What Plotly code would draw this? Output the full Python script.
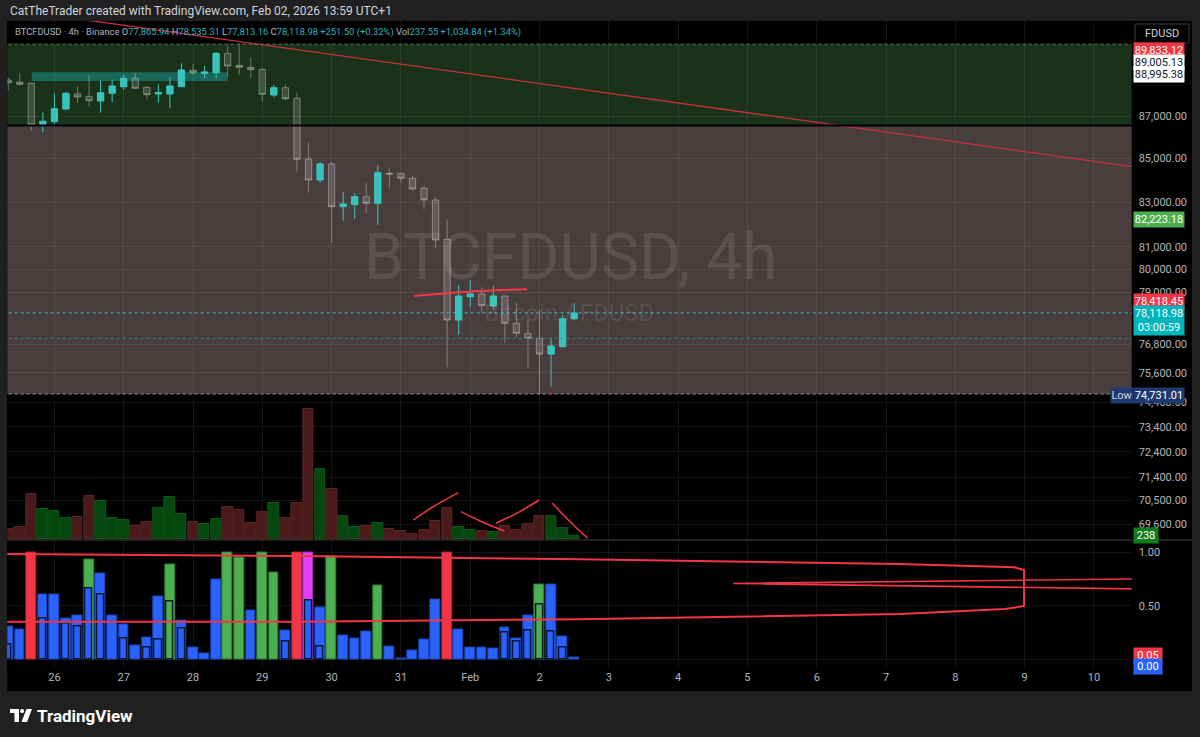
import math
import pandas as pd
import plotly.graph_objects as go

# ---------------- data ----------------
BAR_TIMES = pd.date_range("2026-01-25 09:00", periods=50, freq="4h")

OPEN = [88730, 88632, 88567, 86606, 86729, 87334, 88060, 87942, 87717, 88087,
        88405, 88812, 88376, 88054, 88054, 88405, 89202, 89055, 89084, 90034,
        89445, 89347, 89250, 88005, 88357, 87846, 84980, 84008, 84746, 82790,
        82881, 83246, 82945, 84316, 84316, 84087, 83628, 83094, 81327, 77816,
        78814, 78930, 78415, 78844, 77675, 77253, 77040, 76382, 76689, 77865.94]
HIGH = [88860, 89055, 88600, 87176, 88087, 88150, 88439, 88973, 88681, 88763,
        88973, 89084, 88440, 88521, 88890, 89544, 89510, 89412, 90099, 90429,
        90529, 89838, 89300, 88488, 88521, 88116, 85758, 84839, 84839, 83459,
        83401, 83884, 84700, 84593, 84330, 84192, 83733, 83218, 82221, 79319,
        79537, 79220, 79289, 78860, 78552, 77846, 78243, 77040, 78030, 78535.31]
LOW = [88210, 88454, 86303, 86228, 86620, 87286, 87635, 87444, 87157, 87655,
       88246, 88300, 87798, 87636, 87367, 88390, 88973, 88812, 88812, 88890,
       88973, 88812, 87683, 87894, 87731, 84390, 83427, 83884, 81176, 82158,
       82235, 82493, 81966, 83628, 83884, 83518, 82672, 80929, 75828, 77181,
       78359, 78103, 78243, 76857, 77084, 75786, 74731.01, 75029, 76680, 77813.16]
CLOSE = [88600, 88520, 86587, 86748, 87348, 88087, 87909, 87731, 88116, 88440,
         88812, 88328, 88019, 88116, 88440, 89216, 89084, 89118, 90034, 89412,
         89347, 89231, 88039, 88357, 87827, 84965, 84008, 84746, 82790, 82913,
         83246, 82945, 84344, 84284, 84087, 83596, 83094, 81296, 77816, 78844,
         78930, 78428, 78844, 77675, 77253, 77040, 76382, 76718, 77867.48, 78118.98]
VOLUME = [766, 893, 3555, 2370, 2188, 1659, 1714, 3373, 2978, 1659,
          1477, 1027, 1319, 2449, 3318, 1951, 1319, 1185, 1556, 2504,
          2267, 1240, 2078, 2844, 1659, 2789, 10215, 5506, 3926, 1793,
          948, 1027, 1240, 766, 608, 340, 687, 1367, 2425, 948,
          711, 608, 529, 1003, 711, 1185, 1793, 1793, 845, 237.55]

# oscillator pane (0..1): main histogram + inner histogram
IND_MAIN = [0.31, 0.28, 1.0, 0.61, 0.61, 0.38, 0.41, 0.93, 0.80, 0.41,
            0.32, 0.13, 0.20, 0.59, 0.89, 0.36, 0.11, 0.055, 0.75, 1.0,
            0.95, 0.46, 1.0, 0.81, 0.27, 1.0, 1.0, 0.48, 0.96, 0.22,
            0.19, 0.26, 0.69, 0.12, 0.01, 0.08, 0.18, 0.56, 1.0, 0.28,
            0.11, 0.11, 0.10, 0.30, 0.19, 0.41, 0.70, 0.70, 0.21, 0.02]
IND_MAIN_KIND = ["b", "b", "r", "b", "b", "b", "b", "g", "b", "b",
                 "b", "b", "b", "b", "g", "b", "b", "b", "b", "g",
                 "g", "b", "g", "g", "b", "r", "m", "b", "g", "b",
                 "b", "b", "g", "b", "b", "b", "b", "b", "r", "b",
                 "b", "b", "b", "b", "b", "b", "g", "b", "b", "b"]
IND_INNER = [0.14, None, None, 0.38, None, 0.33, 0.31, 0.66, 0.61, None,
             0.19, None, 0.11, 0.18, 0.54, 0.29, None, None, None, None,
             None, None, None, None, 0.17, None, 0.55, 0.12, None, None,
             None, None, None, None, None, None, None, None, None, None,
             None, None, None, 0.25, 0.17, 0.27, 0.51, 0.26, 0.11, None]
IND_INNER_KIND = ["b", "b", "b", "b", "b", "b", "b", "b", "b", "b",
                  "b", "b", "b", "b", "g", "b", "b", "b", "b", "b",
                  "b", "b", "b", "b", "b", "b", "b", "b", "b", "b",
                  "b", "b", "b", "b", "b", "b", "b", "b", "b", "b",
                  "b", "b", "b", "b", "b", "b", "g", "b", "b", "b"]

DAY_TICKS = ["2026-01-26 01:00", "2026-01-27 01:00", "2026-01-28 01:00", "2026-01-29 01:00",
             "2026-01-30 01:00", "2026-01-31 01:00", "2026-02-01 01:00", "2026-02-02 01:00",
             "2026-02-03 01:00", "2026-02-04 01:00", "2026-02-05 01:00", "2026-02-06 01:00",
             "2026-02-07 01:00", "2026-02-08 01:00", "2026-02-09 01:00", "2026-02-10 01:00"]
DAY_LABELS = ["26", "27", "28", "29", "30", "31", "Feb", "2", "3", "4", "5", "6", "7", "8", "9", "10"]
PRICE_TICKS = [87000, 85000, 83000, 81000, 80000, 79000, 76800, 75600,
               74400, 73400, 72400, 71400, 70500, 69600]

# drawings (bar-index, value)
GREEN_ZONE = [86549, 90490]
PINK_ZONE = [74731.01, 86549]
TEAL_BOX_IDX = [2.03, 19.0]
TEAL_BOX_PRICE = [88681, 89104]
TREND_IDX = [5.5, 97.5]
TREND_PRICE = [91790, 84612]
RES_IDX = [35.13, 40.85, 44.92]
RES_PRICE = [78844, 79060, 79133]
LAST_PRICE = 78118.98
PREV_LINE = 77040
VOL_STROKES = [
    ([35.07, 36.81, 38.97], [1477, 2528, 3634]),
    ([39.18, 40.99, 42.95], [2133, 1343, 608]),
    ([42.21, 44.03, 45.98], [1217, 2007, 3057]),
    ([47.11, 48.64, 50.17], [2797, 1343, 32]),
]
OSC_LOOP_IDX = [-1, 25.26, 49.5, 77.2, 86.3, 87.95, 87.95, 87.1, 77.2, 49.5, 25.26, -1]
OSC_LOOP_VAL = [0.351, 0.351, 0.374, 0.423, 0.470, 0.498, 0.835, 0.860, 0.891, 0.935, 0.966, 0.985]
OSC_LOOP2_IDX = [98, 62.75, 98]
OSC_LOOP2_VAL = [0.751, 0.709, 0.657]

# ---------------- helpers ----------------
W, H = 1200, 737
FONT = "Roboto"
def X(px): return px / W
def Y(py): return 1 - py / H
def at(idx): return BAR_TIMES[0] + pd.Timedelta(hours=4 * idx)

FOUR_H_MS = 4 * 3600 * 1000
KIND_FILL = {"b": "#2962ff", "g": "#4caf50", "r": "#f23645", "m": "#e040fb"}
KIND_LINE = {"b": "#1d44b0", "g": "#2f7a33", "r": "#b02232", "m": "#9d2cb2"}

fig = go.Figure()

# candles
fig.add_trace(go.Candlestick(
    x=BAR_TIMES, open=OPEN, high=HIGH, low=LOW, close=CLOSE,
    increasing=dict(line=dict(color="#3cc8c0", width=1), fillcolor="#35c4bd"),
    decreasing=dict(line=dict(color="rgba(215,215,215,0.42)", width=1), fillcolor="rgba(255,255,255,0.15)"),
    whiskerwidth=0, hoverinfo="skip", xaxis="x", yaxis="y", showlegend=False))

# volume
up = [c >= o for o, c in zip(OPEN, CLOSE)]
fig.add_trace(go.Bar(
    x=BAR_TIMES, y=VOLUME, width=FOUR_H_MS * 0.9,
    marker=dict(color=["#06470f" if u else "#4a1a1a" for u in up],
                line=dict(color=["#0b5a16" if u else "#5c2424" for u in up], width=1)),
    xaxis="x", yaxis="y2", showlegend=False, hoverinfo="skip"))

# oscillator
fig.add_trace(go.Bar(
    x=BAR_TIMES, y=IND_MAIN, width=FOUR_H_MS * 0.85,
    marker=dict(color=[KIND_FILL[k] for k in IND_MAIN_KIND],
                line=dict(color=[KIND_LINE[k] for k in IND_MAIN_KIND], width=1)),
    xaxis="x", yaxis="y3", showlegend=False, hoverinfo="skip"))
fig.add_trace(go.Bar(
    x=BAR_TIMES, y=IND_INNER, width=FOUR_H_MS * 0.62,
    marker=dict(color=[KIND_FILL[k] for k in IND_INNER_KIND],
                line=dict(color="#0c1530", width=1.5)),
    xaxis="x", yaxis="y3", showlegend=False, hoverinfo="skip"))

# drawings on price pane
fig.add_trace(go.Scatter(x=[at(i) for i in TREND_IDX], y=TREND_PRICE, mode="lines",
                         line=dict(color="#c8303e", width=1.3), xaxis="x", yaxis="y",
                         showlegend=False, hoverinfo="skip"))
fig.add_trace(go.Scatter(x=[at(i) for i in RES_IDX], y=RES_PRICE, mode="lines",
                         line=dict(color="#f23645", width=2, shape="spline"), xaxis="x", yaxis="y",
                         showlegend=False, hoverinfo="skip"))
fig.add_trace(go.Scatter(x=[at(-1), at(98)], y=[LAST_PRICE, LAST_PRICE], mode="lines",
                         line=dict(color="#26c6cf", width=1, dash="dot"), xaxis="x", yaxis="y",
                         showlegend=False, hoverinfo="skip"))
fig.add_trace(go.Scatter(x=[at(-1), at(98)], y=[PREV_LINE, PREV_LINE], mode="lines",
                         line=dict(color="#2a8f94", width=1, dash="dot"), xaxis="x", yaxis="y",
                         showlegend=False, hoverinfo="skip"))
fig.add_trace(go.Scatter(x=[at(-1), at(98)], y=[GREEN_ZONE[1], GREEN_ZONE[1]], mode="lines",
                         line=dict(color="#6a7a6a", width=1, dash="dot"), xaxis="x", yaxis="y",
                         showlegend=False, hoverinfo="skip"))
fig.add_trace(go.Scatter(x=[at(-1), at(98)], y=[PINK_ZONE[0], PINK_ZONE[0]], mode="lines",
                         line=dict(color="#9a9a9a", width=1, dash="dot"), xaxis="x", yaxis="y",
                         showlegend=False, hoverinfo="skip"))
fig.add_trace(go.Scatter(x=[at(-1), at(98)], y=[GREEN_ZONE[0], GREEN_ZONE[0]], mode="lines",
                         line=dict(color="#000000", width=2), xaxis="x", yaxis="y",
                         showlegend=False, hoverinfo="skip"))

# drawings on volume
for sx, sy in VOL_STROKES:
    fig.add_trace(go.Scatter(x=[at(i) for i in sx], y=sy, mode="lines",
                             line=dict(color="#f23645", width=1.5, shape="spline"),
                             xaxis="x", yaxis="y2", showlegend=False, hoverinfo="skip"))

# drawings on oscillator
fig.add_trace(go.Scatter(x=[at(i) for i in OSC_LOOP_IDX], y=OSC_LOOP_VAL, mode="lines",
                         line=dict(color="#f23645", width=2), xaxis="x", yaxis="y3",
                         showlegend=False, hoverinfo="skip"))
fig.add_trace(go.Scatter(x=[at(i) for i in OSC_LOOP2_IDX], y=OSC_LOOP2_VAL, mode="lines",
                         line=dict(color="#f23645", width=1.6), xaxis="x", yaxis="y3",
                         showlegend=False, hoverinfo="skip"))

GRID = "rgba(255,255,255,0.07)"
TICKC = "#b2b5be"

shapes = [
    # chart frame
    dict(type="rect", xref="paper", yref="paper", x0=X(7.3), x1=X(1192), y0=Y(691), y1=Y(21),
         fillcolor="#000000", line=dict(width=0), layer="below"),
    # zones
    dict(type="rect", xref="x domain", yref="y", x0=0, x1=1, y0=GREEN_ZONE[0], y1=GREEN_ZONE[1],
         fillcolor="#1a3219", line=dict(width=0), layer="below"),
    dict(type="rect", xref="x domain", yref="y", x0=0, x1=1, y0=PINK_ZONE[0], y1=PINK_ZONE[1],
         fillcolor="#4a3d3d", line=dict(width=0), layer="below"),
    dict(type="rect", xref="x", yref="y", x0=at(TEAL_BOX_IDX[0]), x1=at(TEAL_BOX_IDX[1]),
         y0=TEAL_BOX_PRICE[0], y1=TEAL_BOX_PRICE[1],
         fillcolor="rgba(28,150,145,0.55)", line=dict(width=0), layer="below"),
    # pane separator
    dict(type="line", xref="paper", yref="paper", x0=X(7.3), x1=X(1192), y0=Y(540), y1=Y(540),
         line=dict(color="#2c2c2c", width=1.5)),
    # FDUSD button
    dict(type="rect", xref="paper", yref="paper", x0=X(1135), x1=X(1189), y0=Y(43), y1=Y(24),
         fillcolor="#000000", line=dict(color="#3a3d45", width=1)),
    # TradingView logo
    dict(type="rect", xref="paper", yref="paper", x0=X(10), x1=X(19), y0=Y(713), y1=Y(709),
         fillcolor="#ffffff", line=dict(width=0)),
    dict(type="rect", xref="paper", yref="paper", x0=X(14.5), x1=X(19), y0=Y(722), y1=Y(709),
         fillcolor="#ffffff", line=dict(width=0)),
    dict(type="circle", xref="paper", yref="paper", x0=X(20), x1=X(24.2), y0=Y(713.2), y1=Y(709),
         fillcolor="#ffffff", line=dict(width=0)),
    dict(type="path", xref="paper", yref="paper",
         path=f"M {X(26.5)} {Y(709)} L {X(32)} {Y(709)} L {X(27)} {Y(722)} L {X(21.5)} {Y(722)} Z",
         fillcolor="#ffffff", line=dict(width=0)),
]

annotations = []
def label(text, py, bg, fg, px=1133, w=48, size=11, anchor="left"):
    annotations.append(dict(xref="paper", yref="paper", x=X(px), y=Y(py), xanchor=anchor,
                            yanchor="middle", text=text, showarrow=False, bgcolor=bg,
                            font=dict(color=fg, size=size, family=FONT), borderpad=1,
                            width=w, align="center"))

label("89,833.12", 50, "#f23645", "#ffffff")
label("89,005.13", 62.5, "#ffffff", "#131722")
label("88,995.38", 75, "#ffffff", "#131722")
label("82,223.18", 219.5, "#4caf50", "#ffffff")
label("78,418.45", 301, "#f23645", "#ffffff")
label("78,118.98<br>03:00:59", 320, "#00b4bd", "#ffffff")
label("Low", 395, "#1f3a70", "#d1d4dc", px=1110, w=20)
label("74,731.01", 395, "#1f3a70", "#ffffff")
label("238", 535, "#0f7d1e", "#ffffff", w=22)
label("0.05", 655, "#f23645", "#ffffff", w=26)
label("0.00", 666.5, "#2962ff", "#ffffff", w=26)

hv = "#2bb3bd"
header = ("BTCFDUSD · 4h · Binance "
          f"O<span style='color:{hv}'>77,865.94</span> "
          f"H<span style='color:{hv}'>78,535.31</span> "
          f"L<span style='color:{hv}'>77,813.16</span> "
          f"C<span style='color:{hv}'>78,118.98</span> "
          f"<span style='color:{hv}'>+251.50 (+0.32%)</span> "
          f"Vol<span style='color:{hv}'>237.55</span> "
          f"<span style='color:{hv}'>+1,034.84 (+1.34%)</span>")
annotations += [
    dict(xref="paper", yref="paper", x=X(8), y=Y(11), xanchor="left", yanchor="middle",
         text="CatTheTrader created with TradingView.com, Feb 02, 2026 13:59 UTC+1",
         showarrow=False, font=dict(color="#d1d4dc", size=12, family=FONT)),
    dict(xref="paper", yref="paper", x=X(13), y=Y(32), xanchor="left", yanchor="middle",
         text=header, showarrow=False, font=dict(color=TICKC, size=9.4, family=FONT)),
    dict(xref="paper", yref="paper", x=X(1162), y=Y(33.5), xanchor="center", yanchor="middle",
         text="FDUSD", showarrow=False, font=dict(color="#d1d4dc", size=11, family=FONT)),
    dict(xref="paper", yref="paper", x=X(570), y=Y(258), xanchor="center", yanchor="middle",
         text="BTCFDUSD, 4h", showarrow=False,
         font=dict(color="rgba(255,255,255,0.10)", size=64, family=FONT)),
    dict(xref="paper", yref="paper", x=X(569), y=Y(313), xanchor="center", yanchor="middle",
         text="Bitcoin / FDUSD", showarrow=False,
         font=dict(color="rgba(255,255,255,0.10)", size=24, family=FONT)),
    dict(xref="paper", yref="paper", x=X(35), y=Y(715.5), xanchor="left", yanchor="middle",
         text="<b>TradingView</b>", showarrow=False,
         font=dict(color="#ffffff", size=17, family=FONT)),
]

fig.update_layout(
    width=W, height=H, margin=dict(l=0, r=0, t=0, b=0),
    paper_bgcolor="#202020", plot_bgcolor="#000000",
    barmode="overlay", bargap=0, boxgap=0.22,
    font=dict(family=FONT, color=TICKC, size=11),
    shapes=shapes, annotations=annotations, hovermode=False,
    xaxis=dict(type="date", domain=[X(7.3), X(1131.7)], anchor="y3",
               range=[at(-0.078), at(97.27)],
               tickvals=DAY_TICKS, ticktext=DAY_LABELS, ticks="", ticklen=0,
               tickfont=dict(color=TICKC, size=11, family=FONT),
               showgrid=True, gridcolor=GRID, gridwidth=1, zeroline=False,
               showline=False, rangeslider=dict(visible=False), fixedrange=True),
    yaxis=dict(type="log", domain=[Y(539.5), Y(21)], range=[4.838937, 4.962082],
               anchor="x", side="right", tickvals=PRICE_TICKS,
               ticktext=[f"{v:,.2f}" for v in PRICE_TICKS], ticks="", ticklabelstandoff=6,
               tickfont=dict(color=TICKC, size=11, family=FONT),
               showgrid=True, gridcolor=GRID, zeroline=False, showline=False),
    yaxis2=dict(overlaying="y", range=[-63, 40898], visible=False, showgrid=False),
    yaxis3=dict(domain=[Y(669), Y(540.5)], range=[-0.092, 1.111], anchor="x", side="right",
                tickvals=[0, 0.5, 1.0], ticktext=["", "0.50", "1.00"], ticks="",
                ticklabelstandoff=6, tickfont=dict(color=TICKC, size=11, family=FONT),
                showgrid=True, gridcolor=GRID, zeroline=False, showline=False),
)

fig.write_html("out.html")
